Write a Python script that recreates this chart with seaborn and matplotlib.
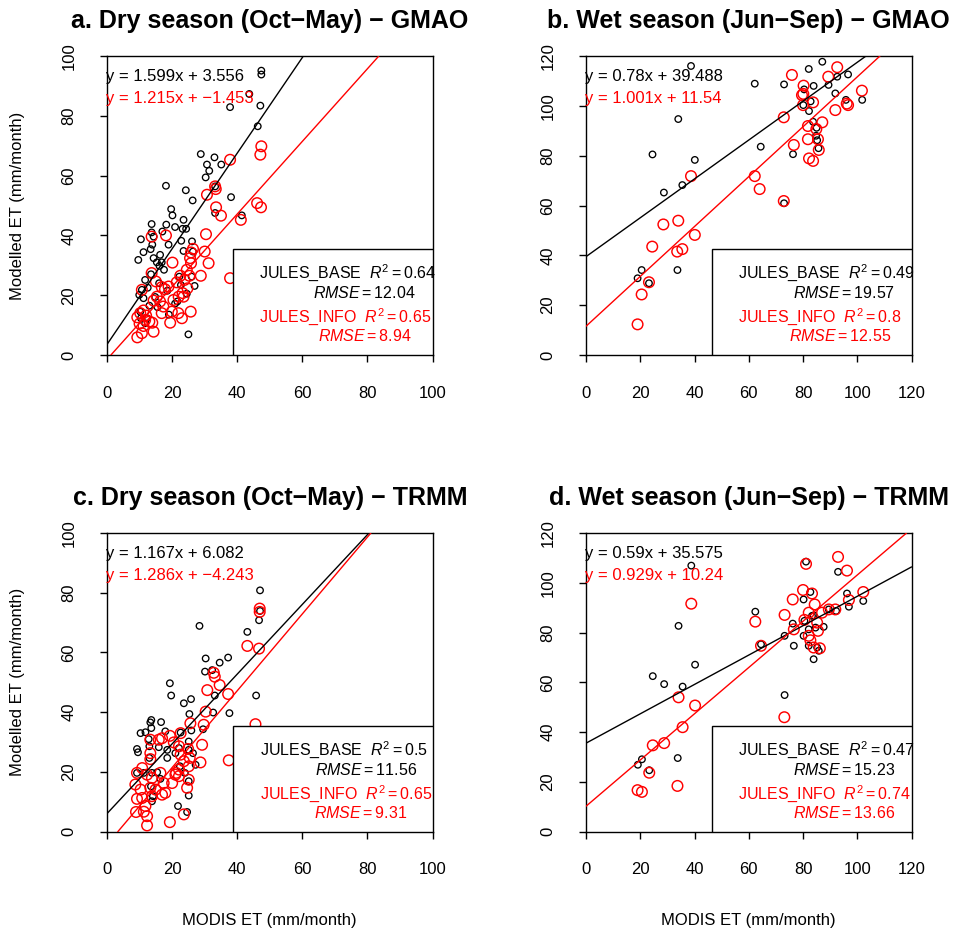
import matplotlib
matplotlib.use("Agg")
import matplotlib.pyplot as plt
import seaborn as sns
from matplotlib.patches import Rectangle

# ---------------- data: MODIS ET (x) vs modelled ET (y), mm/month ----------------
# Dry season, GMAO forcing
dry_gmao_base_x = [47.4, 47.4, 43.7, 37.8, 47.1, 46.3, 28.8, 33.0, 30.7, 35.1, 31.4, 30.3, 18.1, 24.2,
                   33.2, 38.1, 26.3, 19.7, 20.1, 33.2, 41.4, 23.5, 13.7, 18.2, 20.9, 23.2, 24.3, 17.0,
                   13.7, 14.3, 10.4, 22.8, 26.1, 13.9, 18.9, 11.2, 13.4, 23.5, 26.4, 9.6, 14.3, 16.3,
                   15.3, 16.8, 16.1, 11.7, 10.7, 9.9, 11.2, 14.8, 22.2, 22.7, 26.0, 26.9, 21.6, 20.9,
                   10.2, 10.4, 12.3, 11.7, 25.0, 12.5, 13.5, 16.0, 18.5, 15.5, 19.0, 24.5, 17.5, 13.0]
dry_gmao_base_y = [95.1, 93.8, 87.3, 82.9, 83.4, 76.5, 67.2, 66.1, 63.7, 63.7, 61.6, 59.4, 56.6, 55.1,
                   56.4, 52.8, 51.7, 48.8, 46.7, 47.5, 46.7, 45.2, 43.8, 43.6, 42.8, 42.2, 42.2, 41.3,
                   41.0, 39.6, 38.7, 38.2, 38.0, 36.9, 36.9, 34.4, 35.4, 34.8, 34.6, 31.8, 32.4, 33.5,
                   31.0, 31.0, 29.8, 25.1, 21.8, 20.1, 19.0, 19.4, 26.2, 23.4, 26.2, 23.1, 17.9, 17.2,
                   14.5, 12.3, 12.3, 10.6, 6.9, 22.5, 27.0, 24.0, 21.5, 16.0, 13.5, 20.5, 28.5, 16.5]
dry_gmao_info_x = [47.4, 47.1, 37.8, 33.2, 33.4, 30.7, 33.5, 35.0, 46.1, 47.3, 41.1, 30.4, 13.7, 18.1,
                   30.0, 26.4, 25.8, 25.5, 25.8, 31.2, 20.1, 24.5, 22.5, 25.3, 28.8, 13.7, 37.8, 15.0,
                   16.8, 18.9, 17.8, 10.7, 21.4, 23.8, 24.7, 23.2, 22.0, 20.4, 23.5, 15.3, 14.3, 16.3,
                   17.3, 16.8, 19.9, 21.9, 25.7, 23.0, 11.2, 10.2, 9.3, 11.7, 13.0, 11.2, 13.9, 14.3,
                   19.4, 10.7, 9.3, 12.0, 10.0]
dry_gmao_info_y = [69.8, 67.0, 65.3, 56.4, 55.5, 53.6, 49.4, 46.6, 50.8, 49.4, 45.2, 40.4, 39.6, 40.0,
                   34.6, 35.5, 34.3, 32.4, 30.7, 30.7, 30.9, 28.5, 26.5, 26.5, 26.5, 27.4, 25.7, 24.6,
                   22.7, 22.9, 22.0, 21.8, 24.3, 25.1, 22.3, 20.7, 19.5, 18.4, 19.5, 19.5, 18.2, 17.9,
                   16.2, 14.0, 14.5, 14.0, 14.5, 12.3, 14.9, 14.0, 12.6, 11.7, 11.2, 9.7, 10.8, 7.8,
                   10.8, 7.3, 5.9, 13.2, 10.5]

# Wet season, GMAO forcing
wet_gmao_base_x = [38.7, 87.1, 82.1, 62.2, 73.0, 83.9, 89.4, 92.6, 96.6, 80.4, 91.9, 95.8, 101.8, 82.8,
                   80.1, 82.2, 34.0, 83.7, 85.0, 84.8, 85.2, 85.7, 76.3, 64.4, 24.5, 40.1, 35.5, 28.7,
                   73.0, 20.5, 19.0, 23.2, 33.7]
wet_gmao_base_y = [116.0, 117.7, 114.8, 108.9, 108.6, 108.0, 108.4, 111.7, 112.6, 106.6, 105.0, 102.4,
                   102.4, 101.8, 100.3, 97.9, 94.7, 93.6, 91.2, 88.0, 86.2, 83.0, 80.6, 83.6, 80.5,
                   78.3, 68.2, 65.2, 60.9, 34.1, 30.8, 28.8, 34.1]
wet_gmao_info_x = [92.6, 75.9, 89.3, 80.2, 80.1, 79.6, 83.7, 80.0, 101.7, 96.1, 96.6, 91.9, 72.9, 87.1,
                   81.8, 84.9, 81.8, 85.5, 85.8, 82.2, 83.7, 76.6, 38.7, 62.2, 64.0, 72.9, 28.5, 34.0,
                   40.1, 24.4, 33.6, 35.5, 23.2, 20.5, 19.0]
wet_gmao_info_y = [115.5, 112.4, 111.7, 108.1, 104.8, 104.3, 101.4, 100.3, 106.1, 100.9, 100.3, 98.3,
                   95.4, 93.4, 91.9, 90.7, 86.6, 86.6, 82.3, 78.9, 77.9, 84.3, 71.8, 71.8, 66.6, 61.8,
                   52.4, 53.9, 48.2, 43.5, 41.5, 42.5, 29.2, 24.3, 12.3]

# Dry season, TRMM forcing
dry_trmm_base_x = [47.0, 47.0, 46.7, 28.4, 43.1, 37.2, 30.3, 34.6, 30.1, 32.3, 19.3, 19.7, 45.8, 33.1,
                   23.6, 25.8, 25.3, 32.6, 37.6, 29.5, 13.6, 13.3, 16.6, 10.3, 11.8, 13.6, 17.9, 22.6,
                   25.9, 9.2, 9.5, 12.8, 13.0, 15.9, 18.5, 22.1, 25.1, 26.4, 13.0, 18.5, 21.0, 25.1,
                   9.2, 15.4, 16.4, 11.3, 13.8, 22.4, 23.9, 27.2, 25.1, 25.1, 13.5, 14.1, 21.8, 24.6,
                   13.8]
dry_trmm_base_y = [80.8, 73.9, 70.8, 68.9, 66.9, 58.3, 58.0, 56.6, 53.6, 54.1, 49.7, 45.6, 45.6, 45.6,
                   43.0, 44.4, 39.4, 39.9, 39.7, 34.3, 37.4, 36.6, 36.7, 33.0, 33.3, 34.7, 33.6, 33.2,
                   33.9, 27.7, 26.6, 31.0, 28.6, 28.3, 27.4, 28.0, 27.4, 26.3, 24.7, 24.7, 26.3, 30.2,
                   19.7, 19.9, 17.7, 19.7, 19.7, 21.9, 19.7, 22.4, 16.9, 12.1, 15.2, 11.9, 8.6, 6.6,
                   10.2]
dry_trmm_info_x = [46.9, 46.9, 46.7, 43.1, 32.8, 33.1, 34.6, 30.8, 37.2, 45.6, 30.3, 29.7, 37.4, 25.6,
                   22.6, 19.3, 16.9, 13.3, 13.3, 20.5, 22.1, 24.9, 25.4, 29.2, 28.7, 13.3, 15.9, 22.6,
                   23.6, 25.1, 22.1, 21.2, 9.2, 10.8, 12.3, 13.8, 16.4, 17.4, 8.7, 10.3, 10.8, 13.8,
                   14.9, 16.9, 17.9, 20.0, 21.0, 24.6, 9.2, 11.8, 11.3, 12.3, 8.9, 19.3, 12.3, 23.6,
                   13.3, 22.1, 25.1]
dry_trmm_info_y = [74.7, 73.6, 61.3, 62.2, 53.2, 51.9, 49.1, 47.4, 46.1, 36.0, 40.2, 35.8, 23.9, 36.3,
                   33.0, 32.1, 31.3, 30.8, 26.3, 29.9, 28.6, 27.7, 24.7, 29.1, 23.2, 24.3, 30.8, 25.8,
                   23.6, 21.9, 20.8, 19.7, 19.7, 21.3, 19.1, 18.0, 19.7, 16.3, 15.8, 14.1, 11.3, 11.9,
                   14.1, 12.4, 13.0, 16.3, 19.1, 14.7, 11.0, 8.6, 6.7, 5.2, 6.6, 3.2, 2.1, 5.8,
                   14.7, 18.6, 17.4]

# Wet season, TRMM forcing
wet_trmm_base_x = [38.8, 81.1, 92.9, 62.4, 82.7, 80.2, 96.2, 96.9, 102.2, 92.2, 83.9, 89.5, 76.2, 73.2,
                   76.6, 80.5, 82.1, 80.2, 87.6, 82.1, 85.8, 83.9, 85.2, 34.1, 64.5, 40.2, 24.6, 28.8,
                   35.6, 73.2, 20.6, 19.1, 23.3, 33.8, 83.3, 84.6]
wet_trmm_base_y = [106.9, 108.5, 104.4, 88.4, 96.3, 93.3, 95.7, 90.4, 92.7, 88.7, 86.9, 89.3, 83.6, 78.7,
                   74.7, 84.7, 81.3, 78.7, 82.3, 74.7, 72.7, 69.3, 74.0, 82.7, 75.3, 67.1, 62.5, 59.3,
                   58.3, 54.9, 29.1, 26.9, 24.7, 29.6, 86.7, 82.0]
wet_trmm_info_x = [92.9, 96.2, 81.1, 80.0, 83.3, 76.2, 84.3, 102.2, 96.9, 89.5, 91.9, 87.0, 82.1, 73.2,
                   80.5, 85.2, 76.6, 85.5, 82.1, 82.7, 83.9, 86.2, 62.4, 64.5, 38.8, 34.1, 40.2, 35.6,
                   73.1, 24.6, 28.8, 23.3, 33.7, 19.0, 20.6]
wet_trmm_info_y = [110.4, 104.9, 107.6, 97.1, 95.7, 93.3, 91.3, 96.3, 93.1, 89.3, 89.3, 88.0, 88.0, 87.1,
                   85.1, 84.0, 81.3, 80.7, 78.7, 76.9, 74.0, 73.7, 84.4, 74.7, 91.6, 54.0, 50.7, 42.0,
                   46.0, 34.7, 35.6, 23.7, 18.4, 16.7, 16.0]

# Linear fits (slope, intercept) and skill scores (R^2, RMSE)
fit_base = [(1.599, 3.556), (0.78, 39.488), (1.167, 6.082), (0.59, 35.575)]
fit_info = [(1.215, -1.453), (1.001, 11.54), (1.286, -4.243), (0.929, 10.24)]
r2_base = [0.64, 0.49, 0.5, 0.47]
r2_info = [0.65, 0.8, 0.65, 0.74]
rmse_base = [12.04, 19.57, 11.56, 15.23]
rmse_info = [8.94, 12.55, 9.31, 13.66]

titles = ["a. Dry season (Oct\u2212May) \u2212 GMAO",
          "b. Wet season (Jun\u2212Sep) \u2212 GMAO",
          "c. Dry season (Oct\u2212May) \u2212 TRMM",
          "d. Wet season (Jun\u2212Sep) \u2212 TRMM"]
axis_max = [100, 120, 100, 120]
tick_step = 20

base_xy = [(dry_gmao_base_x, dry_gmao_base_y), (wet_gmao_base_x, wet_gmao_base_y),
           (dry_trmm_base_x, dry_trmm_base_y), (wet_trmm_base_x, wet_trmm_base_y)]
info_xy = [(dry_gmao_info_x, dry_gmao_info_y), (wet_gmao_info_x, wet_gmao_info_y),
           (dry_trmm_info_x, dry_trmm_info_y), (wet_trmm_info_x, wet_trmm_info_y)]

# ---------------- styling ----------------
sns.set_style("white")
plt.rcParams["font.family"] = ["Liberation Sans", "DejaVu Sans"]
plt.rcParams["mathtext.fontset"] = "custom"
plt.rcParams["mathtext.rm"] = "Liberation Sans"
plt.rcParams["mathtext.it"] = "Liberation Sans:italic"
plt.rcParams["mathtext.bf"] = "Liberation Sans:bold"
plt.rcParams["axes.unicode_minus"] = True
for key in ("text.color", "axes.labelcolor", "xtick.color", "ytick.color", "axes.edgecolor"):
    plt.rcParams[key] = "black"

RED = "#FF0000"
fig = plt.figure(figsize=(9.54, 9.32), dpi=100)

# panel rectangles in figure fractions
rects = [[0.1122, 0.6191, 0.3412, 0.3208],
         [0.6143, 0.6191, 0.3412, 0.3208],
         [0.1122, 0.1076, 0.3412, 0.3205],
         [0.6143, 0.1076, 0.3412, 0.3205]]


def fmt_num(v):
    s = repr(v)
    return s.replace("-", "\u2212")


leg_x = [(0.468, 0.634, 0.468, 0.649),
         (0.466, 0.635, 0.466, 0.623),
         (0.471, 0.640, 0.471, 0.637),
         (0.466, 0.635, 0.466, 0.635)]
leg_y = (0.275, 0.207, 0.128, 0.062)

for i in range(4):
    ax = fig.add_axes(rects[i])
    vmax = axis_max[i]
    bx, by = base_xy[i]
    ix, iy = info_xy[i]

    sns.scatterplot(x=bx, y=by, ax=ax, marker="o", s=22, facecolor="none",
                    edgecolor="black", linewidth=0.95, zorder=3)
    sns.scatterplot(x=ix, y=iy, ax=ax, marker="o", s=58, facecolor="none",
                    edgecolor=RED, linewidth=1.05, zorder=3)

    sb, ib = fit_base[i]
    si, ii = fit_info[i]
    ax.axline((0, ib), slope=sb, color="black", lw=1.0, zorder=4)
    ax.axline((0, ii), slope=si, color=RED, lw=1.0, zorder=4)

    ax.set_xlim(0, vmax)
    ax.set_ylim(0, vmax)
    ticks = list(range(0, vmax + 1, tick_step))
    ax.set_xticks(ticks)
    ax.set_yticks(ticks)
    ax.set_xticklabels([str(t) for t in ticks], fontsize=12)
    ax.set_yticklabels([str(t) for t in ticks], fontsize=12, rotation=90, va="center")
    ax.tick_params(direction="out", length=5, width=1.0, color="black", labelcolor="black",
                   bottom=True, left=True)
    ax.tick_params(axis="x", pad=17)
    ax.tick_params(axis="y", pad=17)
    for sp in ax.spines.values():
        sp.set_visible(True)
        sp.set_color("black")
        sp.set_linewidth(1.0)

    # regression equations
    ax.text(-0.003, 0.933, f"y = {fmt_num(sb)}x + {fmt_num(ib)}", transform=ax.transAxes,
            ha="left", va="center", fontsize=12, color="black", zorder=6)
    ax.text(-0.003, 0.859, f"y = {fmt_num(si)}x + {fmt_num(ii)}", transform=ax.transAxes,
            ha="left", va="center", fontsize=12, color=RED, zorder=6)

    # statistics box
    ax.add_patch(Rectangle((0.386, 0.0), 0.614, 0.355, transform=ax.transAxes,
                           facecolor="white", edgecolor="black", lw=1.0, zorder=5))
    lx = leg_x[i]
    ax.text(lx[0], leg_y[0], rf"JULES_BASE  $R^{{2}} = \mathit{{{r2_base[i]}}}$",
            transform=ax.transAxes, ha="left", va="center", fontsize=11.5, color="black", zorder=6)
    ax.text(lx[1], leg_y[1], rf"$\mathit{{RMSE}} = \mathit{{{rmse_base[i]}}}$",
            transform=ax.transAxes, ha="left", va="center", fontsize=11.5, color="black", zorder=6)
    ax.text(lx[2], leg_y[2], rf"JULES_INFO  $R^{{2}} = \mathit{{{r2_info[i]}}}$",
            transform=ax.transAxes, ha="left", va="center", fontsize=11.5, color=RED, zorder=6)
    ax.text(lx[3], leg_y[3], rf"$\mathit{{RMSE}} = \mathit{{{rmse_info[i]}}}$",
            transform=ax.transAxes, ha="left", va="center", fontsize=11.5, color=RED, zorder=6)

    ax.text(0.5, 1.118, titles[i], transform=ax.transAxes, ha="center", va="center",
            fontsize=18, fontweight="bold", color="black")
    ax.set_xlabel("")
    ax.set_ylabel("")

    if i in (0, 2):
        cy = rects[i][1] + rects[i][3] / 2
        fig.text(18 / 954, cy, "Modelled ET (mm/month)", rotation=90, ha="center",
                 va="center", fontsize=12, color="black")
    if i in (2, 3):
        cx = rects[i][0] + rects[i][2] / 2
        fig.text(cx, 1 - 920 / 932, "MODIS ET (mm/month)", ha="center", va="center",
                 fontsize=12, color="black")

fig.savefig("out.png", dpi=100, facecolor="white")
